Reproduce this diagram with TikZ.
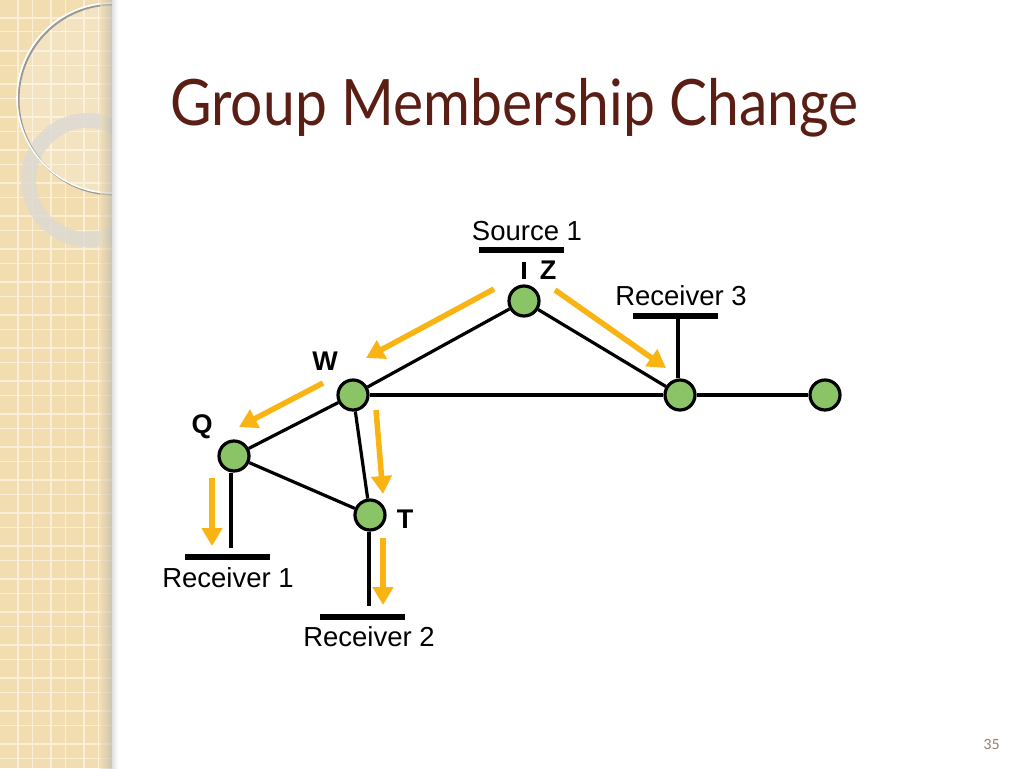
\documentclass[tikz,border=0pt]{standalone}
\usepackage{fontspec}
\setmainfont{Liberation Sans}
\newfontfamily\titlefont{Lato}
\usetikzlibrary{arrows.meta,shadings}
\definecolor{stripbg}{HTML}{F2DDB1}
\definecolor{stripline}{HTML}{FAEFD6}
\definecolor{titlebrown}{HTML}{5A1E15}
\definecolor{nodegreen}{HTML}{8AC467}
\definecolor{flowyellow}{HTML}{F9B414}
\definecolor{ringgray}{HTML}{DDDAD3}
\definecolor{pagenum}{HTML}{8E7F70}
\tikzset{
  router/.style={circle,draw=black,line width=3.2pt,fill=nodegreen,minimum size=30pt,inner sep=0pt},
  link/.style={draw=black,line width=3.2pt},
  lan/.style={draw=black,line width=5.5pt},
  flow/.style={draw=flowyellow,line width=5.5pt,-{Triangle[length=18pt,width=20pt]}},
  lbl/.style={font=\fontsize{27.5}{30}\selectfont,inner sep=0pt},
  rname/.style={font=\bfseries\fontsize{27}{30}\selectfont,inner sep=0pt}
}
\begin{document}
\begin{tikzpicture}[x=1pt,y=-1pt]
\useasboundingbox (0,0) rectangle (1024,768);
\fill[white] (0,0) rectangle (1024,768);
% left decorative strip
\begin{scope}
\clip (0,0) rectangle (112,768);
\fill[stripbg] (0,0) rectangle (112,768);
\foreach \k in {0,...,24}{
  \draw[stripline,line width=1.5pt] ({-15+33*\k},0) -- ({-15+33*\k},768);
  \draw[stripline,line width=1pt] ({-1+33*\k},0) -- ({-1+33*\k},768);
  \draw[stripline,line width=1.5pt] (0,{-15+33*\k}) -- (112,{-15+33*\k});
  \draw[stripline,line width=1pt] (0,{-1+33*\k}) -- (112,{-1+33*\k});
}
% highlight
\fill[white,opacity=0.2] (112,98) circle (95);
% ring
\fill[ringgray,opacity=0.85,even odd rule] (88,180) circle (67) (88,180) circle (52);
% big thin circle
\draw[black!40,line width=2pt] (113.5,99.5) circle (95);
\draw[white,line width=1.6pt] (112,98) circle (95);
% right-edge shadow
\shade[left color=stripbg,right color=black!30,opacity=0.6] (100,0) rectangle (112,768);
\end{scope}
\shade[left color=black!12,right color=white] (112,0) rectangle (118,768);
% title
\node[anchor=base west,inner sep=0pt,text=titlebrown,font=\titlefont\fontsize{64}{70}\selectfont] (title) at (170,125) {\scalebox{0.89}[1]{Group Membership Change}};
% page number
\node[anchor=base east,inner sep=0pt,text=pagenum,font=\titlefont\fontsize{14}{16}\selectfont] (pg) at (1000,749) {35};
% routers
\node[router] (Z) at (524,301) {};
\node[router] (W) at (353,395) {};
\node[router] (Q) at (234,456) {};
\node[router] (T) at (370,515) {};
\node[router] (R3n) at (680,395) {};
\node[router] (E) at (825,395) {};
% links
\draw[link] (Z) -- (W);
\draw[link] (Z) -- (R3n);
\draw[link] (W) -- (R3n);
\draw[link] (R3n) -- (E);
\draw[link] (W) -- (Q);
\draw[link] (W) -- (T);
\draw[link] (Q) -- (T);
% LANs
\coordinate (r1l) at (185,557); \coordinate (r1r) at (270,557);
\draw[lan] (r1l) -- (r1r);
\coordinate (r1s) at (231,548);
\draw[link] (Q.south -| r1s) -- (r1s);
\coordinate (r2l) at (320,617); \coordinate (r2r) at (405,617);
\draw[lan] (r2l) -- (r2r);
\coordinate (r2s) at (369,606);
\draw[link] (T.south -| r2s) -- (r2s);
\coordinate (r3l) at (633,316); \coordinate (r3r) at (718,316);
\draw[lan] (r3l) -- (r3r);
\coordinate (r3s) at (678,316);
\draw[link] (r3s) -- (R3n.north -| r3s);
\coordinate (s1l) at (479,250); \coordinate (s1r) at (564,250);
\draw[lan] (s1l) -- (s1r);
\coordinate (s1a) at (524,262); \coordinate (s1b) at (524,279);
\draw[link] (s1a) -- (s1b);
% labels
\node[lbl] (ls1) at (527,231) {Source 1};
\node[lbl] (lr3) at (681,296) {Receiver 3};
\node[lbl] (lr1) at (228,578) {Receiver 1};
\node[lbl] (lr2) at (369,637) {Receiver 2};
\node[rname] (lz) at (548,270) {Z};
\node[rname] (lw) at (325,361) {W};
\node[rname] (lq) at (202,427) {Q};
\node[rname] (lt) at (405,519) {T};
% flows
\coordinate (f1a) at (494,289); \coordinate (f1b) at (366,358);
\coordinate (f2a) at (323,383); \coordinate (f2b) at (239,427);
\coordinate (f3a) at (555,290); \coordinate (f3b) at (666,368);
\coordinate (f4a) at (376,410); \coordinate (f4b) at (383,494);
\coordinate (f5a) at (212,478); \coordinate (f5b) at (212,546);
\coordinate (f6a) at (383,538); \coordinate (f6b) at (383,605);
\draw[flow] (f1a) -- (f1b);
\draw[flow] (f2a) -- (f2b);
\draw[flow] (f3a) -- (f3b);
\draw[flow] (f4a) -- (f4b);
\draw[flow] (f5a) -- (f5b);
\draw[flow] (f6a) -- (f6b);
\end{tikzpicture}
\end{document}
